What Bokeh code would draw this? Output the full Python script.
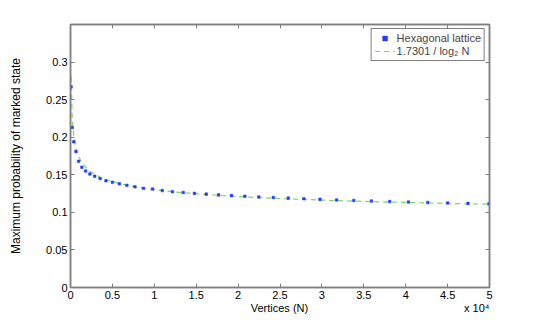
import numpy as np
from bokeh.plotting import figure
from bokeh.models import Range1d, LinearAxis, Legend, LegendItem, FixedTicker
from bokeh.embed import file_html
from bokeh.resources import INLINE

# Hexagonal lattice sizes (vertices N) and maximum probability of marked state
N_hex = [72, 200, 392, 648, 968, 1352, 1800, 2312, 2888, 3528, 4232, 5000, 5832,
         6728, 7688, 8712, 9800, 10952, 12168, 13448, 14792, 16200, 17672, 19208,
         20808, 22472, 24200, 25992, 27848, 29768, 31752, 33800, 35912, 38088,
         40328, 42632, 45000, 47432, 49928]
p_hex = [0.267, 0.213, 0.194, 0.181, 0.168, 0.160, 0.155, 0.151, 0.148, 0.145,
         0.142, 0.140, 0.138, 0.136, 0.134, 0.132, 0.131, 0.129, 0.1275, 0.1265,
         0.1253, 0.1242, 0.1232, 0.1223, 0.1214, 0.1205, 0.1197, 0.1189, 0.1181,
         0.1173, 0.1165, 0.1158, 0.1151, 0.1144, 0.1137, 0.1131, 0.1125, 0.1119,
         0.1113]

# Fitted curve 1.7301 / log2 N evaluated at the lattice sizes
fit_coef = 1.7301
N_fit = N_hex
p_fit = [fit_coef / np.log2(n) for n in N_fit]

x_ticks = [0, 5000, 10000, 15000, 20000, 25000, 30000, 35000, 40000, 45000, 50000]
x_tick_labels = ["0", "0.5", "1", "1.5", "2", "2.5", "3", "3.5", "4", "4.5", "5"]
y_ticks = [0, 0.05, 0.1, 0.15, 0.2, 0.25, 0.3]
y_tick_labels = ["0", "0.05", "0.1", "0.15", "0.2", "0.25", "0.3"]
x_title = "Vertices (N)"
x_scale_text = "x 10\u2074"

FONT = "Liberation Sans"
GRAY = "#7f7f7f"
NB = "\u00a0"

p = figure(width=532, height=316, x_range=Range1d(0, 50000), y_range=Range1d(0, 0.35),
           output_backend="svg", toolbar_location=None,
           min_border_left=70, min_border_right=43, min_border_top=24, min_border_bottom=28)
p.background_fill_color = "white"
p.border_fill_color = "white"
p.grid.visible = False
p.outline_line_color = GRAY
p.outline_line_width = 1.5

p.xaxis.ticker = FixedTicker(ticks=x_ticks)
p.xaxis.major_label_overrides = {t: l for t, l in zip(x_ticks, x_tick_labels)}
p.yaxis.ticker = FixedTicker(ticks=y_ticks)
p.yaxis.major_label_overrides = {t: l for t, l in zip(y_ticks, y_tick_labels)}

for ax in (p.xaxis[0], p.yaxis[0]):
    ax.axis_line_color = GRAY
    ax.axis_line_width = 1.5
    ax.major_tick_line_color = GRAY
    ax.major_tick_in = 4
    ax.major_tick_out = 0
    ax.minor_tick_line_color = None
    ax.major_label_text_font = FONT
    ax.major_label_text_font_size = "11px"
    ax.major_label_text_color = "black"
    ax.axis_label_text_font = FONT
    ax.axis_label_text_font_size = "11px"
    ax.axis_label_text_font_style = "normal"
    ax.axis_label_text_color = "black"
    ax.major_label_standoff = 3

# x-axis title with the "x 10^4" scale factor placed at the right end of the same row
p.xaxis.axis_label = NB * 59 + x_title + NB * 51 + x_scale_text
p.xaxis.axis_label_standoff = 0
p.yaxis.axis_label = "Maximum probability of marked state"
p.yaxis.axis_label_text_font_size = "12px"
p.yaxis.axis_label_standoff = 20

top_ax = LinearAxis(ticker=FixedTicker(ticks=x_ticks),
                    major_label_overrides={t: "" for t in x_ticks},
                    axis_line_color=GRAY, axis_line_width=1.5, major_tick_line_color=GRAY,
                    major_tick_in=4, major_tick_out=0, minor_tick_line_color=None,
                    major_label_standoff=0)
right_ax = LinearAxis(ticker=FixedTicker(ticks=y_ticks),
                      major_label_overrides={t: "" for t in y_ticks},
                      axis_line_color=GRAY, axis_line_width=1.5, major_tick_line_color=GRAY,
                      major_tick_in=4, major_tick_out=0, minor_tick_line_color=None,
                      major_label_standoff=0)
p.add_layout(top_ax, "above")
p.add_layout(right_ax, "right")

r_fit = p.line(N_fit, p_fit, line_color="#5cc84a", line_width=1.2, line_dash="5 4", line_alpha=0.8)
r_hex = p.scatter(N_hex, p_hex, marker="square", size=2.6, fill_color="#1f3dff",
                  line_color="#1f3dff", line_width=0.5)

legend = Legend(items=[LegendItem(label="Hexagonal lattice", renderers=[r_hex]),
                       LegendItem(label="1.7301 / log\u2082 N", renderers=[r_fit])],
                location="top_right")
legend.label_text_font = FONT
legend.label_text_font_size = "11px"
legend.label_height = 12
legend.glyph_height = 12
legend.glyph_width = 20
legend.spacing = 1
legend.padding = 3
legend.margin = 4
legend.label_standoff = 2
legend.border_line_color = "black"
legend.border_line_width = 1
legend.background_fill_color = "white"
p.add_layout(legend)

open("out.html", "w").write(file_html(p, INLINE))
